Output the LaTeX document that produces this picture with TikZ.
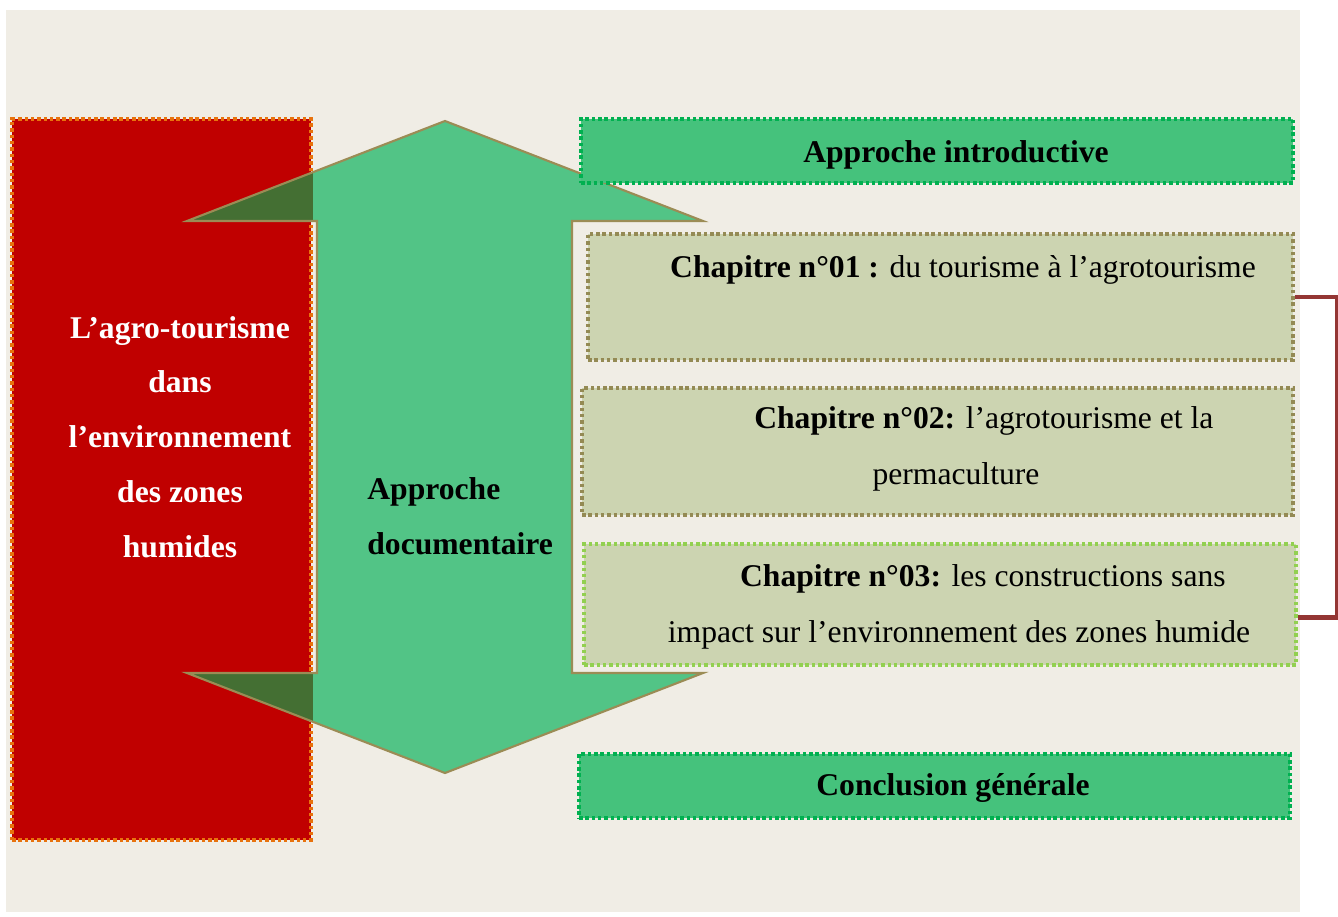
\documentclass[tikz,border=0pt]{standalone}
\usepackage{fontspec}
\setmainfont{Liberation Serif}
\usepackage{xcolor}
\usetikzlibrary{positioning,calc,fit}

\definecolor{paper}{HTML}{F0EDE5}
\definecolor{deepred}{HTML}{C00000}
\definecolor{orangedot}{HTML}{E8720C}
\definecolor{arrowgreen}{HTML}{52C486}
\definecolor{arrowedge}{HTML}{9B8C55}
\definecolor{shadegreen}{HTML}{446F33}
\definecolor{boxgreen}{HTML}{45C27C}
\definecolor{boxedge}{HTML}{00B050}
\definecolor{chapfill}{HTML}{CCD4B1}
\definecolor{chapedge}{HTML}{948A54}
\definecolor{limeedge}{HTML}{92D050}
\definecolor{bracketred}{HTML}{943634}

\tikzset{
  dotline/.style={line width=2pt, dash pattern=on 2pt off 1.6pt},
  greenbox/.style={dotline, draw=boxedge, fill=boxgreen, inner sep=0pt},
  chapbox/.style={dotline, draw=chapedge, fill=chapfill, inner sep=0pt},
  txt/.style={font=\fontsize{18}{31.5}\selectfont, align=center},
}

\newcommand{\arrowoutline}{(445,121) -- (703,221) -- (572,221) -- (572,673) -- (703,673) -- (445,773) -- (187,673) -- (317,673) -- (317,221) -- (187,221) -- cycle}

\begin{document}
\begin{tikzpicture}[x=0.02cm, y=-0.02cm]
    \useasboundingbox (0,0) rectangle (1338,916);
    \fill[paper] (6,10) rectangle (1300,912);

    % Theme block
    \node[dotline, draw=orangedot, fill=deepred, inner sep=0pt, fit={(12,119) (311,840)}] (theme) {};

    % Double arrow
    \fill[arrowgreen] \arrowoutline;
    \begin{scope}
        \clip (theme.south west) rectangle (theme.north east);
        \fill[shadegreen] \arrowoutline;
    \end{scope}
    \draw[arrowedge, line width=1.2pt, line join=miter] \arrowoutline;

    % Boxes on the right
    \node[greenbox, fit={(581,119) (1293,183)}] (intro) {};
    \node[chapbox, fit={(588,234) (1293,360)}] (ch1) {};
    \node[chapbox, fit={(582,388) (1293,515)}] (ch2) {};
    \node[chapbox, draw=limeedge, fit={(584,544) (1296,665)}] (ch3) {};
    \node[greenbox, fit={(579,754) (1290,818)}] (concl) {};

    % Bracket
    \draw[bracketred, line width=2.4pt] (ch1.east) -- ++(42,0) |- ($(ch3.east)+(0,13)$);

    % Texts
    \node[txt, text=white, font=\fontsize{18}{31.2}\selectfont\bfseries] (themetext) at (180,437)
        {L’agro-tourisme\\dans\\l’environnement\\des zones\\humides};
    \node[txt, align=left, anchor=west, inner xsep=0pt, font=\fontsize{18}{31.2}\selectfont\bfseries] (doctext) at (367,516)
        {Approche\\documentaire};
    \node[txt, font=\fontsize{18}{31.5}\selectfont\bfseries] (introtext) at (956,155) {Approche introductive};
    \node[txt] (ch1text) at (963,270) {\textbf{Chapitre n°01 :} du tourisme à l’agrotourisme};
    \node[txt] (ch2text) at (956,449) {\hspace*{31.7pt}\textbf{Chapitre n°02:} l’agrotourisme et la\\permaculture};
    \node[txt] (ch3text) at (959,607) {\hspace*{27.2pt}\textbf{Chapitre n°03:} les constructions sans\\impact sur l’environnement des zones humide};
    \node[txt, font=\fontsize{18}{31.5}\selectfont\bfseries] (concltext) at (953,788) {Conclusion générale};
\end{tikzpicture}
\end{document}
